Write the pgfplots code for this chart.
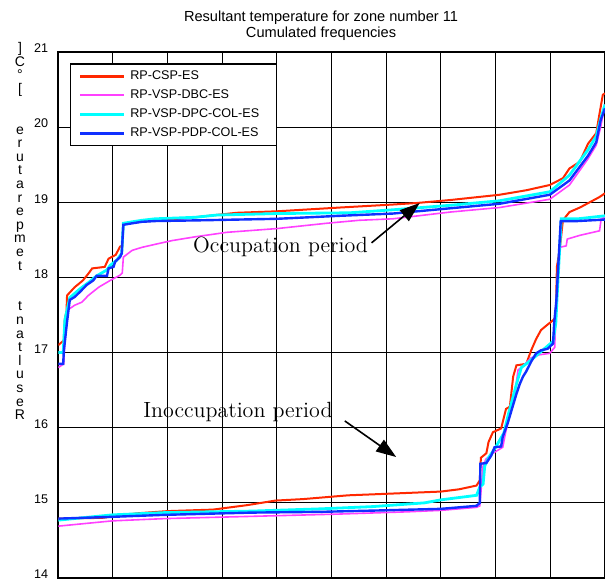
\documentclass[border=0pt]{standalone}
\usepackage{pgfplots}
\pgfplotsset{compat=1.18}
\usepackage{fontspec}
\setsansfont{Liberation Sans}
\usetikzlibrary{arrows.meta}
\definecolor{cred}{RGB}{255,40,0}
\definecolor{cmag}{RGB}{255,64,255}
\definecolor{ccyan}{RGB}{0,255,255}
\definecolor{cblue}{RGB}{16,48,255}
\begin{document}
\begin{tikzpicture}
\begin{axis}[
  scale only axis, width=273.35pt, height=263pt,
  xmin=0, xmax=10, ymin=14, ymax=21,
  xtick={0,...,10}, xticklabels={},
  ytick={14,...,21},
  grid=major, major grid style={black, line width=0.5pt},
  axis line style={black, line width=0.8pt},
  major tick length=0pt,
  /pgf/number format/assume math mode=true,
  yticklabel style={font=\fontsize{6.3}{7}\sffamily, xshift=-1.6pt, yshift=1.8pt},
  xticklabel style={inner sep=0pt, outer sep=0pt},
  legend style={at={(0.0214,0.9785)}, anchor=north west,
    font=\fontsize{6.3}{7.5}\sffamily, draw=black, line width=0.6pt,
    inner xsep=4.1pt, inner ysep=3.2pt, row sep=3.5pt,
    nodes={inner sep=0pt, text height=4.6pt, text depth=1.4pt},
    /tikz/every odd column/.append style={column sep=2.5pt}},
  legend image code/.code={\draw[#1] (0pt,0pt) -- (21.7pt,0pt);},
  legend cell align=left,
]
\addlegendimage{cred, line width=1.6pt}
\addlegendentry{RP-CSP-ES}
\addlegendimage{cmag, line width=1.1pt}
\addlegendentry{RP-VSP-DBC-ES}
\addlegendimage{ccyan, line width=1.6pt}
\addlegendentry{RP-VSP-DPC-COL-ES}
\addlegendimage{cblue, line width=1.6pt}
\addlegendentry{RP-VSP-PDP-COL-ES\hspace*{4.8pt}}

% ---- Occupation period (upper curves)
\addplot[cred, line width=1pt, forget plot] coordinates {
(0,17.1) (0.1,17.16) (0.12,17.45) (0.15,17.55) (0.16,17.76) (0.3,17.87) (0.45,17.96)
(0.55,18.05) (0.62,18.12) (0.85,18.14) (0.92,18.25) (1.05,18.3) (1.13,18.41) (1.17,18.42)
(1.19,18.72) (1.5,18.74) (2.0,18.77) (2.5,18.8) (3.26,18.86) (4.0,18.88) (5.15,18.93)
(6.12,18.97) (6.55,18.99) (7.17,19.03) (8.07,19.1) (8.56,19.16) (8.99,19.23) (9.23,19.32)
(9.35,19.45) (9.54,19.54) (9.69,19.78) (9.84,19.92) (9.9,20.18) (9.96,20.43) (10,20.45)};
\addplot[cmag, line width=0.8pt, forget plot] coordinates {
(0,16.8) (0.1,16.85) (0.13,17.34) (0.16,17.56) (0.3,17.63) (0.43,17.67) (0.55,17.76)
(0.74,17.87) (0.95,17.96) (1.13,18.03) (1.17,18.06) (1.19,18.27) (1.35,18.36) (1.53,18.4)
(1.77,18.44) (2.08,18.49) (2.5,18.54) (3.08,18.6) (4.0,18.65) (4.9,18.72) (5.5,18.76)
(6.12,18.78) (7.17,18.87) (8.07,18.93) (8.99,19.04) (9.35,19.23) (9.69,19.58) (9.84,19.76)
(9.92,20.0) (10,20.3)};
\addplot[ccyan, line width=1.4pt, forget plot] coordinates {
(0,17.0) (0.09,17.0) (0.12,17.43) (0.21,17.73) (0.4,17.85) (0.55,17.93) (0.7,18.02)
(0.89,18.1) (0.95,18.16) (1.07,18.23) (1.16,18.32) (1.19,18.72) (1.35,18.74) (1.53,18.76)
(1.77,18.78) (2.5,18.8) (2.9,18.83) (4.0,18.85) (5.33,18.86) (6.12,18.9) (7.17,18.96)
(8.07,19.02) (8.99,19.14) (9.35,19.36) (9.69,19.7) (9.84,19.88) (9.92,20.11) (10,20.3)};
\addplot[cblue, line width=1.2pt, forget plot] coordinates {
(0,16.85) (0.09,16.85) (0.1,17.01) (0.16,17.41) (0.21,17.7) (0.3,17.74) (0.4,17.81)
(0.52,17.9) (0.64,17.96) (0.7,18.02) (0.89,18.02) (0.92,18.12) (1.01,18.14) (1.04,18.21)
(1.13,18.27) (1.16,18.32) (1.19,18.7) (1.35,18.72) (1.53,18.74) (1.77,18.75) (2.6,18.76)
(4.0,18.78) (5.15,18.82) (6.12,18.85) (7.17,18.92) (8.07,18.98) (8.99,19.1) (9.35,19.29)
(9.69,19.62) (9.84,19.8) (9.92,20.09) (10,20.25)};

% ---- Inoccupation period (lower curves)
\addplot[cred, line width=1pt, forget plot] coordinates {
(0,14.79) (0.8,14.8) (1.43,14.86) (2.0,14.89) (2.83,14.91) (3.46,14.97) (3.97,15.03)
(4.48,15.05) (5.3,15.1) (5.99,15.12) (7.0,15.15) (7.33,15.18) (7.65,15.23) (7.71,15.3)
(7.73,15.6) (7.83,15.66) (7.87,15.81) (7.95,15.94) (8.1,15.99) (8.19,16.25) (8.26,16.28)
(8.32,16.68) (8.38,16.83) (8.56,16.85) (8.65,17.03) (8.74,17.18) (8.83,17.3) (8.93,17.36)
(9.05,17.43) (9.1,17.47) (9.12,18.14) (9.17,18.36) (9.23,18.76) (9.35,18.87) (9.54,18.93)
(9.72,19.0) (9.9,19.07) (10,19.12)};
\addplot[cmag, line width=0.8pt, forget plot] coordinates {
(0,14.69) (0.99,14.76) (1.94,14.79) (3.53,14.82) (5.11,14.85) (6.37,14.88) (7.0,14.9)
(7.65,14.94) (7.71,14.96) (7.77,15.49) (7.82,15.58) (7.95,15.66) (8.13,15.74) (8.18,15.93)
(8.35,16.45) (8.41,16.77) (8.5,16.82) (8.65,16.93) (8.8,16.97) (8.99,16.99) (9.08,17.07)
(9.11,17.69) (9.17,18.4) (9.29,18.42) (9.31,18.51) (9.54,18.56) (9.78,18.6) (9.9,18.62)
(9.93,18.78) (10,18.8)};
\addplot[ccyan, line width=1.4pt, forget plot] coordinates {
(0,14.77) (0.99,14.84) (1.94,14.87) (3.53,14.89) (4.79,14.92) (5.75,14.95) (6.7,15.0)
(7.0,15.04) (7.65,15.1) (7.71,15.21) (7.77,15.25) (7.8,15.49) (7.87,15.6) (8.0,15.74)
(8.15,15.93) (8.24,16.2) (8.38,16.58) (8.47,16.8) (8.56,16.85) (8.68,16.92) (8.89,17.05)
(9.05,17.15) (9.1,17.39) (9.12,17.69) (9.2,18.78) (9.5,18.78) (10,18.82)};
\addplot[cblue, line width=1.2pt, forget plot] coordinates {
(0,14.79) (0.85,14.81) (1.94,14.84) (3.53,14.87) (4.79,14.88) (5.94,14.9) (7.0,14.92)
(7.65,14.96) (7.71,15.0) (7.72,15.52) (7.83,15.53) (7.92,15.63) (7.98,15.74) (8.1,15.75)
(8.13,15.88) (8.22,16.06) (8.31,16.28) (8.38,16.45) (8.44,16.58) (8.5,16.68) (8.56,16.75)
(8.65,16.88) (8.74,16.99) (8.83,17.03) (8.95,17.05) (9.05,17.12) (9.07,17.39) (9.11,17.69)
(9.19,18.75) (9.5,18.75) (10,18.77)};

% ---- annotations
\node[anchor=base west, font=\fontsize{11}{13}\selectfont, inner sep=0pt] at (axis cs:2.46,18.325) {Occupation period};
\node[anchor=base west, font=\fontsize{11}{13}\selectfont, inner sep=0pt] at (axis cs:1.55,16.13) {Inoccupation period};
\draw[-{Triangle[length=10pt,width=7pt]}, line width=0.8pt] (axis cs:5.73,18.46) -- (axis cs:6.61,18.99);
\draw[-{Triangle[length=10pt,width=7pt]}, line width=0.8pt] (axis cs:5.24,16.09) -- (axis cs:6.18,15.61);
\end{axis}
% title
\node[anchor=base, font=\fontsize{7.3}{8}\sffamily, inner sep=0pt] at ([shift={(-5.3pt,15.4pt)}]current axis.north) {Resultant temperature for zone number 11};
\node[anchor=base, font=\fontsize{7.3}{8}\sffamily, inner sep=0pt] at ([shift={(-5.3pt,7pt)}]current axis.north) {Cumulated frequencies};
% stacked y label
\node[anchor=north, align=center, inner sep=0pt, font=\fontsize{7}{6.8}\sffamily] at ([shift={(-19.15pt,5pt)}]current axis.north west)
 {{]}\\{C}\\{°}\\{[}\\{~}\\{~}\\{e}\\{r}\\{u}\\{t}\\{a}\\{r}\\{e}\\{p}\\{m}\\{e}\\{t}\\{~}\\{~}\\{t}\\{n}\\{a}\\{t}\\{l}\\{u}\\{s}\\{e}\\{R}};
\pgfresetboundingbox
\path[use as bounding box] ([shift={(-29.15pt,-0.5pt)}]current axis.south west) rectangle ([shift={(0pt,26pt)}]current axis.north east);
\end{tikzpicture}
\end{document}
